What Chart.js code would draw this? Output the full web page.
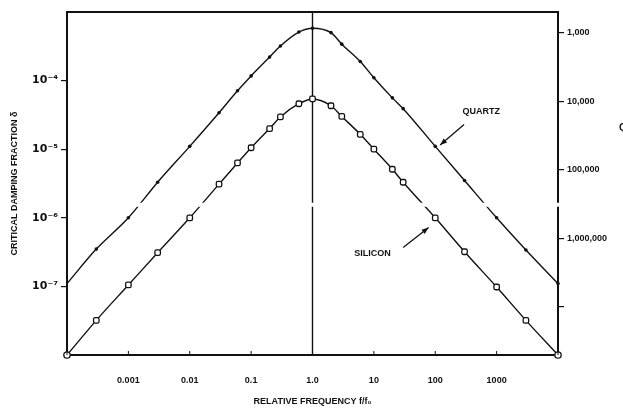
<!DOCTYPE html>
<html>
<head>
<meta charset="utf-8">
<script src="https://cdn.jsdelivr.net/npm/chart.js@4.4.1/dist/chart.umd.min.js"></script>
<style>
  html, body { margin: 0; padding: 0; background: #fff; }
  #wrap { width: 623px; height: 408px; position: relative; }
</style>
</head>
<body>
<div id="wrap"><canvas id="c" width="623" height="408"></canvas></div>
<script>
// Relative frequency f/f0 at the plotted points
const freqs = [0.0001, 0.0003, 0.001, 0.003, 0.01, 0.03, 0.06, 0.1, 0.2, 0.3, 0.6, 1,
               2, 3, 6, 10, 20, 30, 100, 300, 1000, 3000, 10000];
// Critical damping fraction delta
const quartzDelta = [1.1e-7, 3.5e-7, 1.0e-6, 3.3e-6, 1.1e-5, 3.4e-5, 7.1e-5, 1.17e-4, 2.2e-4, 3.2e-4, 5.1e-4, 5.8e-4,
                     5.0e-4, 3.4e-4, 1.9e-4, 1.1e-4, 5.6e-5, 3.9e-5, 1.1e-5, 3.5e-6, 1.0e-6, 3.4e-7, 1.1e-7];
const siliconDelta = [1.0e-8, 3.2e-8, 1.05e-7, 3.1e-7, 1.0e-6, 3.1e-6, 6.3e-6, 1.05e-5, 2.0e-5, 2.95e-5, 4.6e-5, 5.4e-5,
                      4.3e-5, 3.0e-5, 1.65e-5, 1.0e-5, 5.1e-6, 3.3e-6, 1.0e-6, 3.2e-7, 9.8e-8, 3.2e-8, 1.0e-8];

// Axis ticks
const xTicks = [0.0001, 0.001, 0.01, 0.1, 1, 10, 100, 1000, 10000];
const xTickLabels = ['', '0.001', '0.01', '0.1', '1.0', '10', '100', '1000', ''];
const deltaTicks = [1e-4, 1e-5, 1e-6, 1e-7];
const deltaTickLabels = ['10\u207B\u2074', '10\u207B\u2075', '10\u207B\u2076', '10\u207B\u2077'];
const qTicks = [1e3, 1e4, 1e5, 1e6, 1e7];
const qTickLabels = ['1,000', '10,000', '100,000', '1,000,000', ''];

const xRange = [1e-4, 1e4];
const deltaRange = [1e-8, 1e-3];
const qRange = [1 / (2 * deltaRange[1]), 1 / (2 * deltaRange[0])];

// Curve labels with arrows: [text, label f, label delta, arrow start f, delta, arrow tip f, delta]
const curveNotes = [
  ['QUARTZ', 560, 3.5e-5, 295, 2.3e-5, 120, 1.15e-5],
  ['SILICON', 9.5, 3.0e-7, 30, 3.7e-7, 78, 7.2e-7]
];
// Scanner band across the sheet, given as a delta level
const bandDelta = 1.55e-6;

const INK = '#111';
const FONT = '"Liberation Sans", Arial, sans-serif';

const quartzPts = freqs.map((f, i) => ({ x: f, y: quartzDelta[i] }));
const siliconPts = freqs.map((f, i) => ({ x: f, y: siliconDelta[i] }));
const siliconStyles = freqs.map((f, i) => (i === 0 || i === freqs.length - 1) ? 'circle' : 'rectRounded');
const quartzRadii = freqs.map((f, i) => i === 0 ? 0 : 1.8);

const frame = {
  id: 'frame',
  beforeDatasetsDraw(chart) {
    const { ctx, chartArea: a } = chart;
    // plot frame, drawn beneath the curves so end markers stay visible
    ctx.save();
    ctx.strokeStyle = INK;
    ctx.lineWidth = 2;
    ctx.strokeRect(a.left, a.top, a.right - a.left, a.bottom - a.top);
    ctx.restore();
  },
  afterDatasetsDraw(chart) {
    const { ctx, chartArea: a, scales } = chart;
    ctx.save();
    // white scan band
    const yb = scales.y.getPixelForValue(bandDelta);
    ctx.fillStyle = '#fff';
    ctx.fillRect(a.left + 4, yb - 2, a.right - a.left + 6, 4);
    // small inward ticks on the frequency axis
    ctx.strokeStyle = INK;
    ctx.lineWidth = 1;
    xTicks.forEach(v => {
      const px = scales.x.getPixelForValue(v);
      ctx.beginPath();
      ctx.moveTo(px, a.bottom);
      ctx.lineTo(px, a.bottom - 4);
      ctx.stroke();
    });
    // curve labels and arrows
    ctx.fillStyle = INK;
    ctx.font = 'bold 9px ' + FONT;
    ctx.textAlign = 'center';
    ctx.textBaseline = 'middle';
    curveNotes.forEach(n => {
      const lx = scales.x.getPixelForValue(n[1]), ly = scales.y.getPixelForValue(n[2]);
      ctx.fillText(n[0], lx, ly);
      const x0 = scales.x.getPixelForValue(n[3]), y0 = scales.y.getPixelForValue(n[4]);
      const x1 = scales.x.getPixelForValue(n[5]), y1 = scales.y.getPixelForValue(n[6]);
      ctx.lineWidth = 1.3;
      ctx.beginPath();
      ctx.moveTo(x0, y0);
      ctx.lineTo(x1, y1);
      ctx.stroke();
      const ang = Math.atan2(y1 - y0, x1 - x0);
      const L = 7, W = 2.6;
      ctx.beginPath();
      ctx.moveTo(x1, y1);
      ctx.lineTo(x1 - L * Math.cos(ang) + W * Math.sin(ang), y1 - L * Math.sin(ang) - W * Math.cos(ang));
      ctx.lineTo(x1 - L * Math.cos(ang) - W * Math.sin(ang), y1 - L * Math.sin(ang) + W * Math.cos(ang));
      ctx.closePath();
      ctx.fill();
    });
    // Q label at the right edge
    ctx.font = 'bold 10px ' + FONT;
    ctx.textAlign = 'left';
    const qy = scales.q.getPixelForValue(2.5e4);
    ctx.fillText('Q', a.right + 61, qy);
    ctx.restore();
  }
};

new Chart(document.getElementById('c'), {
  type: 'line',
  data: {
    datasets: [
      {
        label: 'QUARTZ',
        data: quartzPts,
        borderColor: INK,
        backgroundColor: INK,
        borderWidth: 1.4,
        pointRadius: quartzRadii,
        pointStyle: 'circle',
        pointBorderWidth: 0,
        cubicInterpolationMode: 'monotone',
        clip: false,
        yAxisID: 'y'
      },
      {
        label: 'SILICON',
        data: siliconPts,
        borderColor: INK,
        backgroundColor: '#fff',
        borderWidth: 1.4,
        pointRadius: 3.2,
        pointStyle: siliconStyles,
        pointBorderWidth: 1.3,
        pointBorderColor: INK,
        pointBackgroundColor: '#fff',
        cubicInterpolationMode: 'monotone',
        clip: false,
        yAxisID: 'y'
      },
      {
        label: 'f/f0 = 1',
        data: [{ x: 1, y: deltaRange[0] }, { x: 1, y: deltaRange[1] }],
        borderColor: INK,
        borderWidth: 1.4,
        pointRadius: 0,
        yAxisID: 'y'
      }
    ]
  },
  options: {
    responsive: false,
    animation: false,
    layout: { padding: { top: 12, left: 0, right: 0, bottom: 0 } },
    plugins: { legend: { display: false }, tooltip: { enabled: false } },
    scales: {
      x: {
        type: 'logarithmic',
        min: xRange[0],
        max: xRange[1],
        afterBuildTicks: s => { s.ticks = xTicks.map(v => ({ value: v })); },
        afterFit: s => { s.height = 53; },
        grid: { display: false, drawTicks: false },
        border: { display: false },
        ticks: {
          autoSkip: false,
          maxRotation: 0,
          padding: 20,
          color: INK,
          font: { family: FONT, size: 9, weight: 'bold' },
          callback: (v, i) => xTickLabels[i]
        },
        title: {
          display: true,
          text: 'RELATIVE FREQUENCY f/f\u2080',
          color: INK,
          font: { family: FONT, size: 9, weight: 'bold' },
          padding: { top: 0, bottom: 1 }
        }
      },
      y: {
        type: 'logarithmic',
        position: 'left',
        min: deltaRange[0],
        max: deltaRange[1],
        afterBuildTicks: s => { s.ticks = deltaTicks.map(v => ({ value: v })); },
        afterFit: s => { s.width = 67; },
        grid: { drawOnChartArea: false, drawTicks: true, tickLength: 6, color: INK, lineWidth: 1.2 },
        border: { display: false },
        ticks: {
          autoSkip: false,
          padding: 3,
          color: INK,
          font: { family: '"DejaVu Sans", ' + FONT, size: 11, weight: 'bold' },
          callback: (v, i) => deltaTickLabels[i]
        },
        title: {
          display: true,
          text: 'CRITICAL DAMPING FRACTION \u03B4',
          color: INK,
          font: { family: FONT, size: 9, weight: 'bold' },
          padding: { top: 9, bottom: 0 }
        }
      },
      q: {
        type: 'logarithmic',
        position: 'right',
        reverse: true,
        min: qRange[0],
        max: qRange[1],
        afterBuildTicks: s => { s.ticks = qTicks.map(v => ({ value: v })); },
        afterFit: s => { s.width = 65; },
        grid: { drawOnChartArea: false, drawTicks: true, tickLength: 6, color: INK, lineWidth: 1.2 },
        border: { display: false },
        ticks: {
          autoSkip: false,
          padding: 3,
          color: INK,
          font: { family: FONT, size: 9, weight: 'bold' },
          callback: (v, i) => qTickLabels[i]
        }
      }
    }
  },
  plugins: [frame]
});
</script>
</body>
</html>
